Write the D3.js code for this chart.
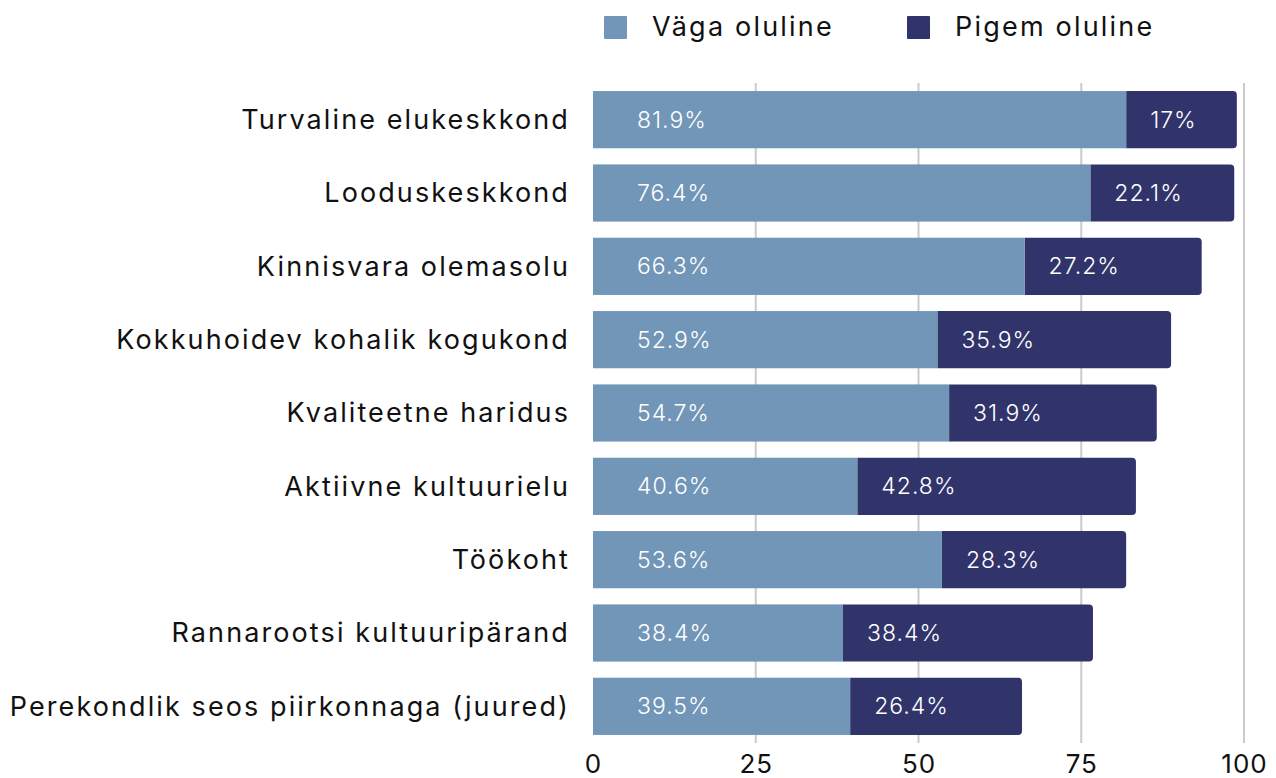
<!DOCTYPE html>
<html>
<head>
<meta charset="utf-8">
<script src="https://cdn.jsdelivr.net/npm/d3@7"></script>
<style>
  body { margin: 0; background: #fff; }
  svg { font-family: "Inter", "Open Sans", sans-serif; }
</style>
</head>
<body>
<div id="chart"></div>
<script>
// data
const categories = [
    "Turvaline elukeskkond",
    "Looduskeskkond",
    "Kinnisvara olemasolu",
    "Kokkuhoidev kohalik kogukond",
    "Kvaliteetne haridus",
    "Aktiivne kultuurielu",
    "Töökoht",
    "Rannarootsi kultuuripärand",
    "Perekondlik seos piirkonnaga (juured)"
];
const seriesNames = ["Väga oluline", "Pigem oluline"];
const vagaOluline = [81.9, 76.4, 66.3, 52.9, 54.7, 40.6, 53.6, 38.4, 39.5];
const pigemOluline = [17, 22.1, 27.2, 35.9, 31.9, 42.8, 28.3, 38.4, 26.4];
const tickValues = [0, 25, 50, 75, 100];

const colors = ["#7196b8", "#30346b"];

const W = 1276, H = 778;
const svg = d3.select("#chart").append("svg")
    .attr("width", W)
    .attr("height", H);

const x = d3.scaleLinear().domain([0, 100]).range([593, 1244]);
const y = d3.scaleBand().domain(categories).range([83, 743])
    .paddingInner(0.22).paddingOuter(0.11);

// gridlines
svg.append("g").selectAll("line")
    .data(tickValues.slice(1))
    .enter().append("line")
    .attr("x1", d => x(d)).attr("x2", d => x(d))
    .attr("y1", y.range()[0]).attr("y2", y.range()[1])
    .attr("stroke", "#cbcbcb")
    .attr("stroke-width", 2);

// rows
const rows = categories.map((c, i) => ({cat: c, a: vagaOluline[i], b: pigemOluline[i]}));

const bars = svg.append("g");
// dark segment first (rounded right end), light segment over it
bars.selectAll("path.b")
    .data(rows).enter().append("path")
    .attr("class", "b")
    .attr("fill", colors[1])
    .attr("d", d => {
        const x0 = x(d.a), x1 = x(d.a + d.b), y0 = y(d.cat), h = y.bandwidth(), r = 4;
        return `M${x0},${y0}H${x1 - r}Q${x1},${y0} ${x1},${y0 + r}V${y0 + h - r}Q${x1},${y0 + h} ${x1 - r},${y0 + h}H${x0}Z`;
    });
bars.selectAll("rect.a")
    .data(rows).enter().append("rect")
    .attr("class", "a")
    .attr("x", x(0))
    .attr("y", d => y(d.cat))
    .attr("width", d => x(d.a) - x(0))
    .attr("height", y.bandwidth())
    .attr("fill", colors[0]);

// value labels
const labels = svg.append("g")
    .attr("font-size", 23)
    .attr("letter-spacing", 1)
    .attr("fill", "#fff")
    .attr("font-weight", 300);
labels.selectAll("text.a")
    .data(rows).enter().append("text")
    .attr("x", x(0) + 44)
    .attr("y", d => y(d.cat) + y.bandwidth() / 2)
    .attr("dy", "0.35em")
    .text(d => d.a + "%");
labels.selectAll("text.b")
    .data(rows).enter().append("text")
    .attr("x", d => x(d.a) + 24)
    .attr("y", d => y(d.cat) + y.bandwidth() / 2)
    .attr("dy", "0.35em")
    .text(d => d.b + "%");

// category labels
svg.append("g").selectAll("text")
    .data(categories).enter().append("text")
    .attr("x", 570)
    .attr("y", d => y(d) + y.bandwidth() / 2)
    .attr("dy", "0.35em")
    .attr("text-anchor", "end")
    .attr("font-size", 27)
    .attr("letter-spacing", 2.1)
    .attr("fill", "#111")
    .text(d => d);

// x axis
const axis = svg.append("g")
    .attr("transform", `translate(0,${y.range()[1]})`)
    .call(d3.axisBottom(x).tickValues(tickValues).tickSize(0).tickPadding(12));
axis.select(".domain").remove();
axis.selectAll("text")
    .attr("font-size", 26)
    .attr("letter-spacing", 1)
    .attr("font-family", "Inter, sans-serif")
    .attr("fill", "#111");

// legend
const legendX = [604, 907];
const legend = svg.append("g");
seriesNames.forEach((s, i) => {
    legend.append("rect")
        .attr("x", legendX[i]).attr("y", 16)
        .attr("width", 23).attr("height", 23)
        .attr("rx", 1)
        .attr("fill", colors[i]);
    legend.append("text")
        .attr("x", legendX[i] + 48).attr("y", 27)
        .attr("dy", "0.35em")
        .attr("font-size", 27)
        .attr("letter-spacing", 2.2)
        .attr("fill", "#111")
        .text(s);
});
</script>
</body>
</html>
